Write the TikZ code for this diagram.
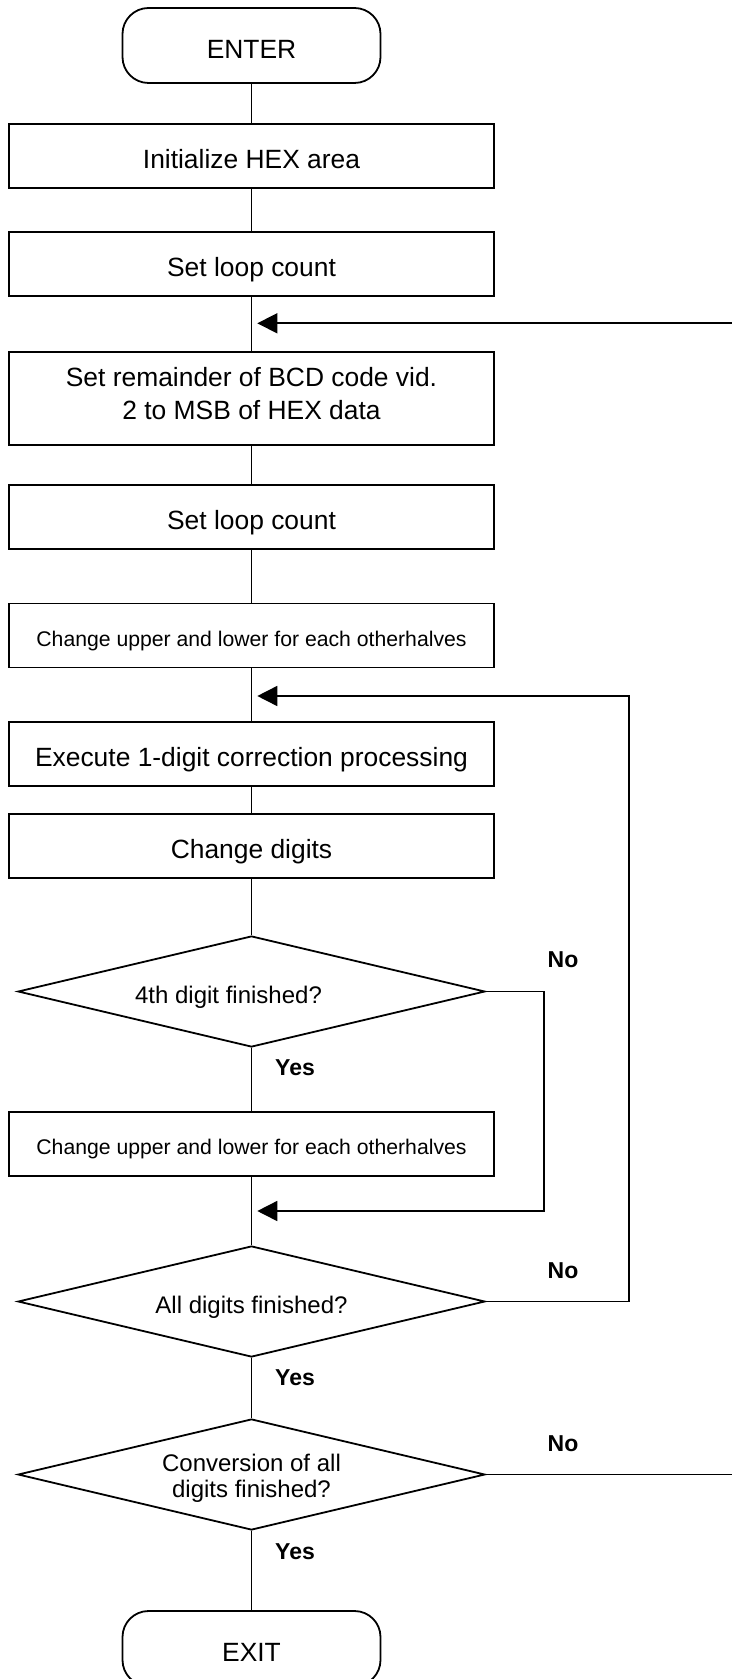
\documentclass[tikz,border=0pt]{standalone}
\usepackage{fontspec}
\setmainfont{Liberation Sans}
\usetikzlibrary{shapes.geometric,arrows.meta}

% two-line text block, lifted by #1 without changing its size
\newcommand{\liftedlines}[2]{\raisebox{#1}[\height][\depth]{\begin{tabular}{@{}c@{}}#2\end{tabular}}}

\begin{document}
\begin{tikzpicture}[x=0.5pt,y=-0.5pt,
  line width=0.8pt,
  proc/.style={draw,rectangle,line width=0.9pt,minimum width=242.25pt,
    minimum height=32pt,inner sep=0pt,text height=12.3pt,text depth=0pt,
    font=\fontsize{13.2}{16.2}\selectfont},
  smalltxt/.style={font=\fontsize{10.6}{12.5}\selectfont,text height=10.6pt},
  term/.style={draw,rectangle,rounded corners=13pt,line width=0.9pt,
    minimum width=129pt,minimum height=37.5pt,inner sep=0pt,
    text height=13.2pt,text depth=0pt,
    font=\fontsize{13.2}{15}\selectfont},
  dec/.style={draw,diamond,aspect=4.2,line width=0.9pt,minimum width=233.5pt,
    minimum height=55.5pt,inner sep=0pt,text height=11.6pt,text depth=0pt,
    font=\fontsize{12}{13}\selectfont},
  freetext/.style={text height={},text depth={}},
  lbl/.style={inner sep=0pt,font=\bfseries\fontsize{11.5}{13}\selectfont},
  back/.style={-{Triangle[length=10pt,width=10pt]}}
]
\useasboundingbox (0,0) rectangle (732,1679);

% main column
\node[term] (enter) at (251.5,45.5) {ENTER};
\node[proc] (init) at (251.5,156) {Initialize HEX area};
\node[proc] (cnt1) at (251.5,264) {Set loop count};
\node[proc,freetext,minimum height=46.5pt] (rem) at (251.5,398.5)
  {\liftedlines{1pt}{Set remainder of BCD code vid.\\2 to MSB of HEX data}};
\node[proc] (cnt2) at (251.5,517) {Set loop count};
\node[proc,smalltxt] (swapA) at (251.5,635.5)
  {Change upper and lower for each otherhalves};
\node[proc] (corr) at (251.5,754) {Execute 1-digit correction processing};
\node[proc] (chg) at (251.5,846) {Change digits};
\node[dec] (d4) at (251.5,991.5) {4th digit finished?\hspace*{23pt}};
\node[proc,smalltxt] (swapB) at (251.5,1144)
  {Change upper and lower for each otherhalves};
\node[dec] (dall) at (251.5,1301.5) {All digits finished?};
\node[dec,freetext] (dconv) at (251.5,1474.5)
  {\liftedlines{-2.2pt}{Conversion of all\\digits finished?}};
\node[term] (exit) at (251.5,1648.5) {EXIT};

% branch labels
\node[lbl] (no1) at (563,960) {No};
\node[lbl] (yes1) at (295,1068) {Yes};
\node[lbl] (no2) at (563,1271) {No};
\node[lbl] (yes2) at (295,1378) {Yes};
\node[lbl] (no3) at (563,1444) {No};
\node[lbl] (yes3) at (295,1552) {Yes};

% vertical flow
\draw (enter) -- (init);
\draw (init) -- (cnt1);
\draw (cnt1) -- (rem);
\draw (rem) -- (cnt2);
\draw (cnt2) -- (swapA);
\draw (swapA) -- (corr);
\draw (corr) -- (chg);
\draw (chg) -- (d4);
\draw (d4) -- (swapB);
\draw (swapB) -- (dall);
\draw (dall) -- (dconv);
\draw (dconv) -- (exit);

% loop-back entry points
\coordinate (in1) at (257.3,323.3);
\coordinate (in2) at (257.3,696);
\coordinate (in3) at (257.3,1211);
\coordinate (edge1) at (740,323.3);
\coordinate (edge3) at (740,1474.5);
\coordinate (r1) at (544,1211);
\coordinate (r2) at (629,696);

\draw[back] (edge1) -- (in1);
\draw[back] (d4.east) -| (r1) -- (in3);
\draw[back] (dall.east) -| (r2) -- (in2);
\draw (dconv.east) -- (edge3);
\end{tikzpicture}
\end{document}
